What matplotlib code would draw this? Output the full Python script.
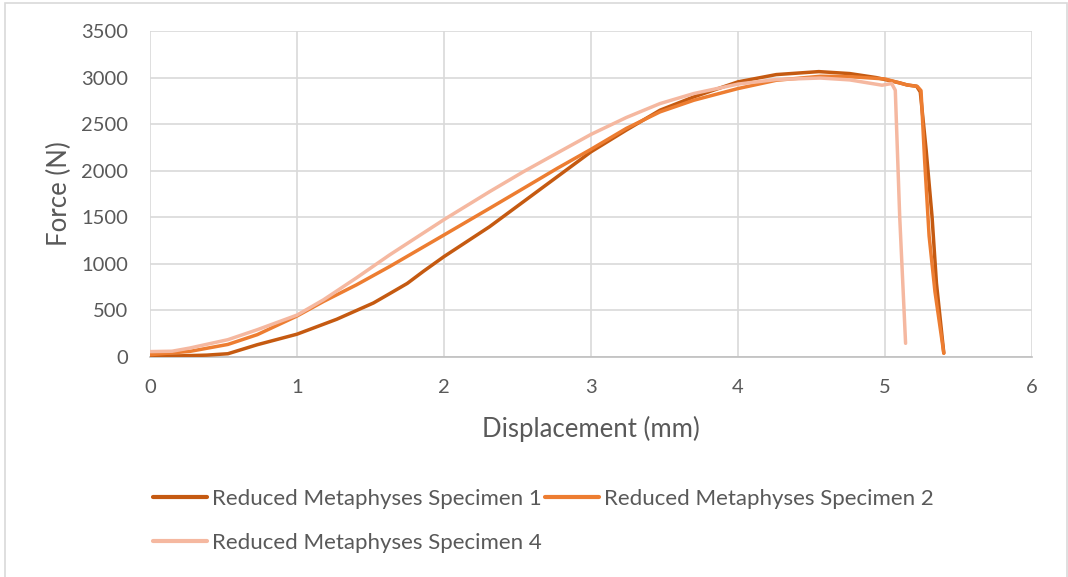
import matplotlib
matplotlib.use("Agg")
import matplotlib.pyplot as plt
from matplotlib.patches import Rectangle
from matplotlib.lines import Line2D

# Force-displacement curves for the reduced metaphyses specimens
spec1_disp = [0.0, 0.2, 0.385, 0.53, 0.73, 1.0, 1.27, 1.52, 1.63, 1.75, 1.86, 2.0,
              2.31, 2.54, 2.77, 3.0, 3.24, 3.47, 3.70, 4.0, 4.26, 4.55, 4.76, 4.94,
              5.10, 5.15, 5.215, 5.24, 5.28, 5.32, 5.35, 5.40]
spec1_force = [10, 12, 20, 35, 132, 245, 405, 580, 680, 790, 920, 1078,
               1399, 1667, 1935, 2203, 2436, 2650, 2793, 2954, 3032, 3064, 3043, 3000,
               2943, 2921, 2907, 2846, 2221, 1507, 793, 43]

spec2_disp = [0.0, 0.27, 0.53, 0.73, 1.0, 1.18, 1.405, 1.63, 2.0, 2.31, 2.54, 2.77,
              3.0, 3.24, 3.47, 3.70, 4.0, 4.26, 4.56, 4.76, 5.0, 5.15, 5.22, 5.245,
              5.27, 5.30, 5.34, 5.40]
spec2_force = [25, 60, 135, 240, 440, 596, 775, 971, 1310, 1596, 1810, 2025,
               2230, 2454, 2632, 2757, 2882, 2971, 3014, 3010, 2985, 2921, 2905, 2860,
               2100, 1300, 700, 40]

spec4_disp = [0.0, 0.15, 0.27, 0.53, 0.73, 1.0, 1.18, 1.405, 1.63, 2.0, 2.31, 2.54,
              2.77, 3.0, 3.24, 3.47, 3.70, 4.0, 4.26, 4.56, 4.76, 4.98, 5.045, 5.07,
              5.10, 5.14]
spec4_force = [58, 62, 96, 186, 293, 450, 614, 850, 1096, 1475, 1775, 1989,
               2190, 2390, 2571, 2721, 2829, 2930, 2979, 2995, 2975, 2918, 2936, 2864,
               1507, 147]

series_labels = ["Reduced Metaphyses Specimen 1",
                 "Reduced Metaphyses Specimen 2",
                 "Reduced Metaphyses Specimen 4"]
series_colors = ["#C55A11", "#ED7D31", "#F5B8A0"]

x_ticks = [0, 1, 2, 3, 4, 5, 6]
y_ticks = [0, 500, 1000, 1500, 2000, 2500, 3000, 3500]

plt.rcParams["font.family"] = ["Lato", "DejaVu Sans"]
text_color = "#595959"
grid_color = "#D9D9D9"

W, H = 1068, 577
fig = plt.figure(figsize=(W / 100, H / 100), dpi=100)
ax = fig.add_axes([150 / W, 1 - 357 / H, (1032 - 150) / W, (357 - 31) / H])

data = [(spec1_disp, spec1_force), (spec2_disp, spec2_force), (spec4_disp, spec4_force)]
handles = []
for i, ((xs, ys), lab, col) in enumerate(zip(data, series_labels, series_colors)):
    line, = ax.plot(xs, ys, color=col, lw=2.5, label=lab,
                    solid_joinstyle="round", solid_capstyle="round", zorder=3 + i)
    handles.append(line)

ax.set_xlim(0, 6)
ax.set_ylim(0, 3500)
ax.set_xticks(x_ticks)
ax.set_yticks(y_ticks)
ax.grid(True, color=grid_color, lw=1.2, zorder=0)
ax.set_axisbelow(True)
for side in ["top", "right", "left"]:
    ax.spines[side].set_visible(False)
ax.spines["bottom"].set_color("#BFBFBF")
ax.spines["bottom"].set_linewidth(1.2)
ax.tick_params(length=0, labelsize=14.5, labelcolor=text_color)
ax.tick_params(axis="x", pad=16)
ax.tick_params(axis="y", pad=15.5)

ax.set_xlabel("Displacement (mm)", fontsize=18.5, color=text_color, labelpad=14)
ax.set_ylabel("Force (N)", fontsize=18.5, color=text_color, labelpad=6.5)

# Legend laid out in two columns, row by row
legend_slots = [(153, 497), (545, 497), (153, 541)]
for h, lab, (px, py) in zip(handles, series_labels, legend_slots):
    yf = 1 - py / H
    fig.add_artist(Line2D([px / W, (px + 54) / W], [yf, yf], transform=fig.transFigure,
                          color=h.get_color(), lw=3, solid_capstyle="round"))
    fig.text((px + 59) / W, yf, lab, fontsize=16, color=text_color,
             ha="left", va="center_baseline")

fig.patches.append(Rectangle((5.5 / W, -0.01), (1066.5 - 5.5) / W, 1 - 3 / H + 0.01,
                             transform=fig.transFigure, fill=False,
                             edgecolor=grid_color, lw=1.2))

fig.savefig("out.png", dpi=100, facecolor="white")
